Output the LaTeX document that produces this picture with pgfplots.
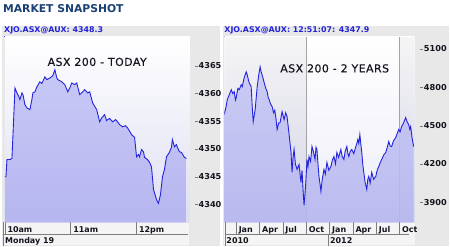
\documentclass[border=0pt]{standalone}
\usepackage{fontspec}
\setmainfont{DejaVu Sans}
\usepackage{pgfplots}
\pgfplotsset{compat=1.18}
\newfontfamily\ttlfont[LetterSpace=4,FakeBold=0.4]{DejaVu Sans}
\definecolor{panel}{RGB}{232,232,232}
\definecolor{hdr}{RGB}{35,35,215}
\definecolor{titleblue}{RGB}{25,65,115}
\definecolor{linec}{RGB}{35,35,220}
\definecolor{filltop}{RGB}{200,200,246}
\definecolor{fillbot}{RGB}{182,182,240}
\definecolor{bgbot}{RGB}{222,222,242}
\definecolor{sep}{RGB}{125,125,125}
\definecolor{lbl}{RGB}{20,20,30}
\newcommand\tk{\textcolor{sep}{\rule[2.4pt]{3pt}{0.6pt}}\hspace{0.8pt}}

\pgfplotsset{
  snap/.style={
    scale only axis, anchor=south west,
    axis line style={draw=none},
    axis background/.style={shade, top color=white, bottom color=bgbot},
    xtick pos=bottom, ytick pos=right, tick align=outside,
    major tick length=12pt,
    x tick style={draw=sep, line width=0.6pt},
    y tick style={draw=none},
    xticklabel style={anchor=north west, font=\fontsize{8}{9}\selectfont\bfseries, text=lbl, xshift=-1pt, yshift=11pt},
    yticklabel style={anchor=west, font=\fontsize{8.2}{9}\selectfont\bfseries, text=lbl, xshift=-10pt},
    clip=true,
  }
}

\begin{document}
\begin{tikzpicture}
\begin{scope}[x=1pt,y=-1pt,shift={(0pt,247pt)}]
\fill[white] (0,0) rectangle (450,247);
\useasboundingbox (0,0) rectangle (450,247);
\node[anchor=base west, inner sep=0, text=titleblue, font=\fontsize{10.8}{12}\selectfont\bfseries] at (3,13) {MARKET SNAPSHOT};
\fill[panel] (2,26) rectangle (221,247);
\fill[panel] (224,26) rectangle (450,247);
\fill[white!50!panel] (3,223) rectangle (190,246);
\fill[white!50!panel] (225,223) rectangle (416,246);
\node[anchor=base west, inner sep=0, text=hdr, font=\fontsize{7.9}{9}\selectfont\bfseries] at (4,33) {\underline{XJO.ASX@AUX: 4348.3}};
\node[anchor=base west, inner sep=0, text=hdr, font=\fontsize{7.9}{9}\selectfont\bfseries] at (225,33) {\underline{XJO.ASX@AUX: 12:51:07: 4347.9}};
\end{scope}

% ---------------- left: today ----------------
\begin{axis}[snap,
  at={(5pt,24pt)}, width=185pt, height=186pt,
  xmin=10, xmax=12.803, ymin=4336.8, ymax=4370.2,
  xtick={10,11,12}, xticklabels={10am,11am,12pm},
  ytick={4340,4345,4350,4355,4360,4365},
  yticklabels={\tk4340,\tk4345,\tk4350,\tk4355,\tk4360,\tk4365},
]
\addplot[draw=none, top color=filltop, bottom color=fillbot] coordinates {
(10.000,4345.0) (10.015,4345.0) (10.030,4348.1) (10.076,4348.1) (10.106,4348.3)
(10.152,4361.0) (10.182,4360.1) (10.212,4359.4) (10.227,4358.9) (10.258,4360.1)
(10.273,4359.8) (10.303,4358.0) (10.333,4357.4) (10.379,4357.1) (10.409,4358.9)
(10.424,4360.1) (10.455,4360.3) (10.485,4361.2) (10.530,4362.1) (10.561,4361.8)
(10.606,4363.0) (10.636,4362.5) (10.682,4362.8) (10.727,4363.2) (10.758,4364.3)
(10.788,4362.8) (10.803,4362.5) (10.864,4362.1) (10.909,4361.6) (10.955,4360.3)
(10.985,4361.0) (11.015,4361.9) (11.061,4361.6) (11.091,4361.9) (11.136,4359.8)
(11.182,4360.3) (11.212,4360.7) (11.258,4360.1) (11.288,4360.3) (11.333,4358.3)
(11.394,4357.1) (11.439,4354.9) (11.470,4355.6) (11.515,4356.2) (11.545,4355.1)
(11.561,4355.3) (11.591,4355.5) (11.636,4354.9) (11.682,4355.3) (11.712,4354.9)
(11.742,4354.4) (11.788,4354.0) (11.833,4354.2) (11.864,4353.8) (11.924,4352.6)
(11.970,4352.1) (12.000,4348.6) (12.030,4349.0) (12.045,4348.6) (12.076,4349.9)
(12.106,4349.5) (12.121,4348.5) (12.167,4348.1) (12.197,4347.6) (12.227,4346.8)
(12.258,4342.7) (12.303,4340.9) (12.333,4340.2) (12.364,4341.8) (12.394,4345.0)
(12.424,4346.3) (12.455,4348.6) (12.500,4349.4) (12.530,4350.3) (12.545,4351.7)
(12.576,4350.4) (12.606,4350.8) (12.621,4350.3) (12.652,4349.5) (12.682,4349.4)
(12.727,4348.5) (12.758,4348.3)
} \closedcycle;
\addplot[linec, line width=0.9pt] coordinates {
(10.000,4345.0) (10.015,4345.0) (10.030,4348.1) (10.076,4348.1) (10.106,4348.3)
(10.152,4361.0) (10.182,4360.1) (10.212,4359.4) (10.227,4358.9) (10.258,4360.1)
(10.273,4359.8) (10.303,4358.0) (10.333,4357.4) (10.379,4357.1) (10.409,4358.9)
(10.424,4360.1) (10.455,4360.3) (10.485,4361.2) (10.530,4362.1) (10.561,4361.8)
(10.606,4363.0) (10.636,4362.5) (10.682,4362.8) (10.727,4363.2) (10.758,4364.3)
(10.788,4362.8) (10.803,4362.5) (10.864,4362.1) (10.909,4361.6) (10.955,4360.3)
(10.985,4361.0) (11.015,4361.9) (11.061,4361.6) (11.091,4361.9) (11.136,4359.8)
(11.182,4360.3) (11.212,4360.7) (11.258,4360.1) (11.288,4360.3) (11.333,4358.3)
(11.394,4357.1) (11.439,4354.9) (11.470,4355.6) (11.515,4356.2) (11.545,4355.1)
(11.561,4355.3) (11.591,4355.5) (11.636,4354.9) (11.682,4355.3) (11.712,4354.9)
(11.742,4354.4) (11.788,4354.0) (11.833,4354.2) (11.864,4353.8) (11.924,4352.6)
(11.970,4352.1) (12.000,4348.6) (12.030,4349.0) (12.045,4348.6) (12.076,4349.9)
(12.106,4349.5) (12.121,4348.5) (12.167,4348.1) (12.197,4347.6) (12.227,4346.8)
(12.258,4342.7) (12.303,4340.9) (12.333,4340.2) (12.364,4341.8) (12.394,4345.0)
(12.424,4346.3) (12.455,4348.6) (12.500,4349.4) (12.530,4350.3) (12.545,4351.7)
(12.576,4350.4) (12.606,4350.8) (12.621,4350.3) (12.652,4349.5) (12.682,4349.4)
(12.727,4348.5) (12.758,4348.3)
};
\node[font=\ttlfont\fontsize{11}{12}\selectfont, text=lbl] at (rel axis cs:0.5,0.865) {ASX 200 - TODAY};
\end{axis}

% ---------------- right: 2 years ----------------
\begin{axis}[snap,
  at={(225pt,24pt)}, width=191pt, height=186pt,
  xmin=-1.54, xmax=22.92, ymin=3744, ymax=5193,
  xtick={0,3,6,9,12,15,18,21}, xticklabels={Jan,Apr,Jul,Oct,Jan,Apr,Jul,Oct},
  ytick={3900,4200,4500,4800,5100},
  yticklabels={\tk3900,\tk4200,\tk4500,\tk4800,\tk5100},
]
\fill[black, opacity=0.04] (axis cs:-1.54,3744) rectangle (axis cs:9,5193);
\fill[black, opacity=0.04] (axis cs:21,3744) rectangle (axis cs:22.92,5193);
\fill[white, opacity=0.45] (axis cs:9,3744) rectangle (axis cs:21,5193);
\draw[sep!70!white, line width=0.6pt] (axis cs:9,3744) -- (axis cs:9,5193);
\draw[sep!70!white, line width=0.6pt] (axis cs:21,3744) -- (axis cs:21,5193);
\addplot[draw=none, top color=filltop, bottom color=fillbot, opacity=0.9] coordinates {
(-1.54,4586) (-1.30,4650) (-1.15,4703) (-0.90,4740) (-0.64,4780) (-0.45,4750) (-0.26,4765)
(-0.10,4700) (0,4718) (0.20,4790) (0.38,4780) (0.64,4819) (0.77,4804) (1.02,4874)
(1.28,4920) (1.41,4897) (1.55,4860) (1.66,4835) (1.92,4804) (2.05,4650) (2.18,4531)
(2.43,4624) (2.69,4804) (2.90,4900) (3.07,4959) (3.20,4920) (3.40,4880) (3.59,4835)
(3.80,4790) (3.97,4765) (4.10,4720) (4.23,4702) (4.40,4670) (4.61,4648) (4.80,4600)
(4.95,4620) (5.12,4547) (5.25,4469) (5.45,4520) (5.63,4523) (5.89,4609) (6.15,4547)
(6.35,4600) (6.53,4570) (6.79,4430) (7.04,4290) (7.17,4134) (7.30,4250) (7.43,4313)
(7.60,4200) (7.81,4157) (8.07,4196) (8.20,4120) (8.32,4056) (8.45,4150) (8.58,4001)
(8.71,3877) (8.85,3980) (8.96,4079) (9.09,4235) (9.22,4180) (9.35,4258) (9.55,4220)
(9.73,4336) (9.90,4300) (10.12,4235) (10.25,4330) (10.37,4313) (10.50,4200) (10.63,4103)
(10.75,4050) (10.88,3986) (11.05,4080) (11.27,4157) (11.45,4120) (11.65,4212) (11.90,4150)
(12.16,4180) (12.35,4230) (12.55,4258) (12.75,4200) (12.93,4290) (13.15,4250) (13.44,4313)
(13.60,4260) (13.83,4235) (14.00,4300) (14.21,4336) (14.35,4280) (14.47,4258) (14.65,4300)
(14.85,4313) (15.10,4280) (15.36,4336) (15.50,4360) (15.62,4391) (15.75,4360) (15.88,4430)
(16.00,4360) (16.13,4290) (16.25,4200) (16.39,4134) (16.55,4060) (16.77,4001) (16.90,4080)
(17.03,4103) (17.20,4050) (17.41,4134) (17.65,4080) (17.93,4103) (18.10,4150) (18.31,4180)
(18.50,4210) (18.69,4235) (18.95,4270) (19.21,4290) (19.40,4330) (19.59,4375) (19.78,4340)
(19.97,4336) (20.20,4380) (20.49,4406) (20.70,4440) (20.87,4469) (21.05,4450) (21.25,4492)
(21.50,4520) (21.77,4562) (21.95,4530) (22.15,4508) (22.30,4470) (22.41,4492) (22.60,4400)
(22.79,4336)
} \closedcycle;
\addplot[linec, line width=0.9pt] coordinates {
(-1.54,4586) (-1.30,4650) (-1.15,4703) (-0.90,4740) (-0.64,4780) (-0.45,4750) (-0.26,4765)
(-0.10,4700) (0,4718) (0.20,4790) (0.38,4780) (0.64,4819) (0.77,4804) (1.02,4874)
(1.28,4920) (1.41,4897) (1.55,4860) (1.66,4835) (1.92,4804) (2.05,4650) (2.18,4531)
(2.43,4624) (2.69,4804) (2.90,4900) (3.07,4959) (3.20,4920) (3.40,4880) (3.59,4835)
(3.80,4790) (3.97,4765) (4.10,4720) (4.23,4702) (4.40,4670) (4.61,4648) (4.80,4600)
(4.95,4620) (5.12,4547) (5.25,4469) (5.45,4520) (5.63,4523) (5.89,4609) (6.15,4547)
(6.35,4600) (6.53,4570) (6.79,4430) (7.04,4290) (7.17,4134) (7.30,4250) (7.43,4313)
(7.60,4200) (7.81,4157) (8.07,4196) (8.20,4120) (8.32,4056) (8.45,4150) (8.58,4001)
(8.71,3877) (8.85,3980) (8.96,4079) (9.09,4235) (9.22,4180) (9.35,4258) (9.55,4220)
(9.73,4336) (9.90,4300) (10.12,4235) (10.25,4330) (10.37,4313) (10.50,4200) (10.63,4103)
(10.75,4050) (10.88,3986) (11.05,4080) (11.27,4157) (11.45,4120) (11.65,4212) (11.90,4150)
(12.16,4180) (12.35,4230) (12.55,4258) (12.75,4200) (12.93,4290) (13.15,4250) (13.44,4313)
(13.60,4260) (13.83,4235) (14.00,4300) (14.21,4336) (14.35,4280) (14.47,4258) (14.65,4300)
(14.85,4313) (15.10,4280) (15.36,4336) (15.50,4360) (15.62,4391) (15.75,4360) (15.88,4430)
(16.00,4360) (16.13,4290) (16.25,4200) (16.39,4134) (16.55,4060) (16.77,4001) (16.90,4080)
(17.03,4103) (17.20,4050) (17.41,4134) (17.65,4080) (17.93,4103) (18.10,4150) (18.31,4180)
(18.50,4210) (18.69,4235) (18.95,4270) (19.21,4290) (19.40,4330) (19.59,4375) (19.78,4340)
(19.97,4336) (20.20,4380) (20.49,4406) (20.70,4440) (20.87,4469) (21.05,4450) (21.25,4492)
(21.50,4520) (21.77,4562) (21.95,4530) (22.15,4508) (22.30,4470) (22.41,4492) (22.60,4400)
(22.79,4336)
};
\node[font=\ttlfont\fontsize{11}{12}\selectfont, text=lbl] at (rel axis cs:0.58,0.83) {ASX 200 - 2 YEARS};
\end{axis}

\begin{scope}[x=1pt,y=-1pt,shift={(0pt,247pt)}]
\draw[sep, line width=0.6pt] (3,235.5) -- (189,235.5);
\draw[sep, line width=0.6pt] (226,235.5) -- (410,235.5);
\draw[sep, line width=0.6pt] (3,223) -- (3,247);
\draw[sep, line width=0.6pt] (226,223) -- (226,247);
\draw[sep, line width=0.6pt] (329,236) -- (329,247);
\node[anchor=base west, inner sep=0, text=lbl, font=\fontsize{8}{9}\selectfont\bfseries] at (5,244.5) {Monday 19};
\node[anchor=base west, inner sep=0, text=lbl, font=\fontsize{8}{9}\selectfont\bfseries] at (227,244.5) {2010};
\node[anchor=base west, inner sep=0, text=lbl, font=\fontsize{8}{9}\selectfont\bfseries] at (331,244.5) {2012};
\end{scope}
\end{tikzpicture}
\end{document}
